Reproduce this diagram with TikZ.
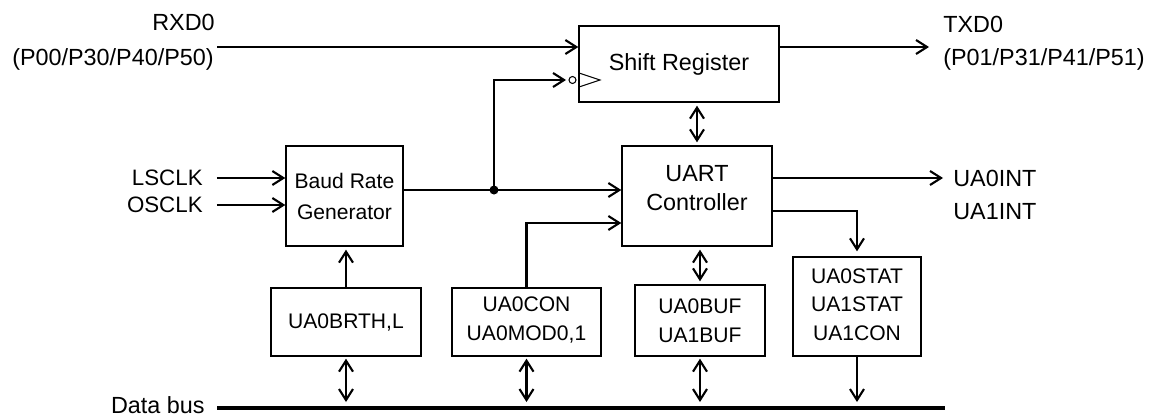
\documentclass[tikz,border=0pt]{standalone}
\usepackage{fontspec}
\setmainfont{Liberation Sans}
\usepackage{tikz}
\usetikzlibrary{positioning, arrows.meta, calc}
\definecolor{ink}{RGB}{0,0,0}

\begin{document}
\begin{tikzpicture}[x=0.02cm, y=-0.02cm,
    blk/.style={draw=ink, line width=0.8pt, inner sep=0pt, align=center,
                font=\fontsize{13.3}{16.4}\selectfont},
    reg/.style={blk, font=\fontsize{12}{16.4}\selectfont},
    lbl/.style={inner sep=0pt, text=ink, font=\fontsize{13.3}{16}\selectfont},
    sig/.style={-{Straight Barb[length=0.22cm, width=0.28cm]}, line width=1.2pt, draw=ink},
    bid/.style={{Straight Barb[length=0.22cm, width=0.28cm]}-{Straight Barb[length=0.22cm, width=0.28cm]},
                line width=1.2pt, draw=ink}
  ]
  \useasboundingbox (0,0) rectangle (1157,416);
  \def\gap{0.06cm}

  % main blocks
  \node[blk, minimum width=4cm, minimum height=1.52cm] (shreg) at (679,64) {Shift Register};
  \node[blk, minimum width=2.34cm, minimum height=2cm,
        font=\fontsize{12}{17.6}\selectfont] (brg) at (344.5,196) {Baud Rate\\Generator};
  \node[blk, minimum width=3cm, minimum height=2cm, text depth=0.32cm] (uart) at (697,196) {UART\\Controller};

  % registers
  \node[reg, minimum width=3cm, minimum height=1.36cm] (brth) at (346,322) {UA0BRTH,L};
  \node[reg, minimum width=2.98cm, minimum height=1.36cm, text depth=0.12cm] (ucon) at (526.5,322) {UA0CON\\UA0MOD0,1};
  \node[reg, minimum width=2.6cm, minimum height=1.42cm] (ubuf) at (700,320.5) {UA0BUF\\UA1BUF};
  \node[reg, minimum width=2.56cm, minimum height=1.98cm, text depth=0.08cm] (ustat) at (857,306.5) {UA0STAT\\UA1STAT\\UA1CON};

  % pin labels
  \node[lbl, anchor=east] (rxd) at (215,22) {RXD0};
  \node[lbl, anchor=east] (rxdp) at (214,59) {(P00/P30/P40/P50)};
  \node[lbl, anchor=west] (txd) at (943,24) {TXD0};
  \node[lbl, anchor=west] (txdp) at (943,59) {(P01/P31/P41/P51)};
  \node[lbl, anchor=east, font=\fontsize{12.7}{15}\selectfont] (lsclk) at (203,178) {LSCLK};
  \node[lbl, anchor=east, font=\fontsize{12.7}{15}\selectfont] (osclk) at (203,205) {OSCLK};
  \node[lbl, anchor=west] (int0) at (953,178) {UA0INT};
  \node[lbl, anchor=west] (int1) at (953,212) {UA1INT};
  \node[lbl, anchor=east] (dbus) at (205,405) {Data bus};

  \coordinate (rxin) at (217,47);
  \coordinate (txout) at (929,47);
  \coordinate (j) at (494,190);
  \coordinate (clkin) at (566,80);
  \coordinate (busL) at (217,408);
  \coordinate (busR) at (945,408);

  % serial data
  \draw[sig] (rxin) -- (rxin -| shreg.west);
  \draw[sig] (shreg.east |- txout) -- (txout);

  % clocks
  \draw[sig] ([xshift=0.28cm]lsclk.east) -- (lsclk.east -| brg.west);
  \draw[sig] ([xshift=0.28cm]osclk.east) -- (osclk.east -| brg.west);
  \draw[sig] (brg.east |- j) -- (uart.west |- j);
  \fill[ink] (j) circle (0.09cm);
  \draw[sig] (j) |- (clkin);
  \draw[ink, line width=0.6pt] (572.5,80) circle (0.07cm);
  \draw[ink, line width=0.6pt] (579,73) -- (600,80) -- (579,87);

  % control paths
  \draw[sig, shorten >=\gap] (brth.north) -- (brth.north |- brg.south);
  \draw[sig] (ucon.north) |- ([yshift=-0.54cm]uart.west);
  \draw[bid, shorten <=\gap, shorten >=\gap] (uart.north) -- (uart.north |- shreg.south);
  \draw[bid, shorten <=\gap, shorten >=\gap] (ubuf.north) -- (ubuf.north |- uart.south);
  \draw[sig] (uart.east |- int0) -- ([xshift=-0.2cm]int0.west);
  \draw[sig, shorten >=0.1cm] ([yshift=-0.3cm]uart.east) -| (ustat.north);

  % data bus
  \draw[ink, line width=2.5pt] (busL) -- (busR);
  \foreach \r in {brth, ucon, ubuf}
    \draw[bid, shorten <=0.04cm, shorten >=0.12cm] (\r.south) -- (\r.south |- busL);
  \draw[sig, shorten >=0.12cm] (ustat.south) -- (ustat.south |- busL);
\end{tikzpicture}
\end{document}
